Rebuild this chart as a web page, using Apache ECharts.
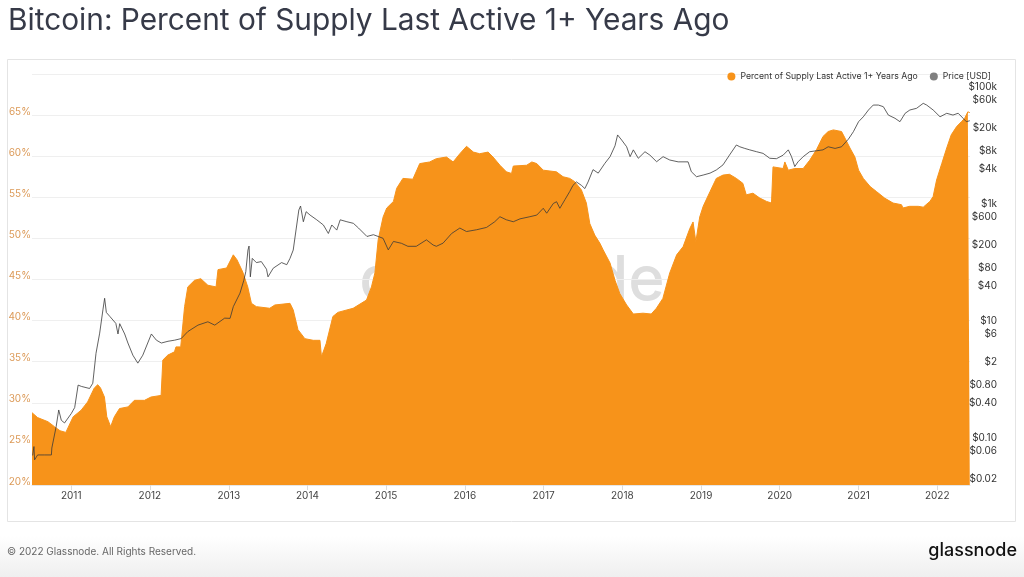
<!DOCTYPE html>
<html>
<head>
<meta charset="utf-8">
<script src="https://cdn.jsdelivr.net/npm/echarts@6/dist/echarts.min.js"></script>
<style>
html,body{margin:0;padding:0;background:#fff;}
#chart{width:1024px;height:577px;}
</style>
</head>
<body>
<div id="chart"></div>
<script>
// ---- Data ----
const pctDates = ['2010-07-03','2010-07-29','2010-09-15','2010-10-15','2010-11-10','2010-12-07','2011-01-10','2011-02-16','2011-03-18','2011-04-18','2011-05-04','2011-05-17','2011-06-04','2011-06-15','2011-07-03','2011-07-20','2011-08-13','2011-09-21','2011-10-21','2011-12-07','2012-01-06','2012-02-22','2012-03-01','2012-03-24','2012-04-24','2012-05-01','2012-05-23','2012-06-10','2012-06-25','2012-07-26','2012-08-24','2012-09-26','2012-11-03','2012-11-12','2012-11-21','2012-12-22','2013-01-22','2013-02-08','2013-03-07','2013-03-30','2013-04-16','2013-05-09','2013-07-10','2013-08-03','2013-10-12','2013-10-27','2013-11-18','2013-12-20','2014-01-28','2014-02-28','2014-03-07','2014-03-29','2014-04-29','2014-05-22','2014-08-01','2014-10-02','2014-10-25','2014-11-10','2014-11-25','2014-12-18','2015-01-04','2015-02-04','2015-02-19','2015-03-20','2015-05-05','2015-06-06','2015-07-22','2015-08-22','2015-10-08','2015-11-08','2015-12-09','2016-01-09','2016-02-10','2016-03-10','2016-04-18','2016-05-11','2016-06-12','2016-07-12','2016-08-05','2016-08-13','2016-10-14','2016-11-07','2016-11-30','2016-12-30','2017-03-01','2017-04-01','2017-05-02','2017-05-25','2017-06-25','2017-07-18','2017-08-03','2017-08-26','2017-09-19','2017-10-04','2017-11-05','2017-11-28','2017-12-20','2018-01-21','2018-02-21','2018-04-07','2018-05-15','2018-06-08','2018-07-08','2018-08-09','2018-09-10','2018-10-10','2018-11-10','2018-11-25','2018-12-08','2018-12-26','2019-01-11','2019-02-12','2019-03-13','2019-04-13','2019-05-13','2019-06-14','2019-07-14','2019-07-30','2019-08-30','2019-10-01','2019-11-01','2019-11-24','2019-12-01','2020-01-17','2020-01-25','2020-02-10','2020-03-11','2020-04-19','2020-05-19','2020-06-20','2020-07-20','2020-08-13','2020-09-06','2020-10-14','2020-10-30','2020-11-22','2020-12-15','2021-01-01','2021-01-23','2021-02-24','2021-03-25','2021-05-02','2021-06-10','2021-07-19','2021-07-26','2021-08-26','2021-10-05','2021-10-28','2021-11-28','2021-12-13','2021-12-29','2022-01-22','2022-02-14','2022-03-07','2022-04-01','2022-04-23','2022-05-08','2022-05-23','2022-06-01'];
const pctValues = [28.8,28.2,27.7,27.1,26.6,26.4,28.3,29.1,30.1,31.8,32.2,31.8,30.7,28.3,27.1,28.3,29.3,29.5,30.3,30.3,30.7,30.9,35.2,35.8,36.2,36.8,36.8,41.7,44.1,44.9,45.1,44.3,44.1,46.2,46.2,46.4,48.0,47.4,45.9,44.1,42.1,41.7,41.5,41.9,42.1,41.3,38.9,37.8,37.6,37.6,35.6,37.2,40.5,41.0,41.5,42.5,44.1,45.8,49.8,52.6,53.7,54.5,56.1,57.3,57.2,59.1,59.3,59.7,59.9,59.3,60.3,61.2,60.5,60.3,60.5,59.9,58.9,58.1,57.9,58.8,58.9,59.3,59.1,58.3,58.1,57.5,57.3,56.9,55.9,54.3,51.8,50.4,49.4,48.6,47.0,44.9,43.3,41.9,40.8,40.9,40.8,41.5,42.7,45.8,48.0,49.0,51.2,52.0,49.6,52.6,53.9,55.7,57.3,57.7,57.8,57.3,56.7,55.3,55.5,54.9,54.5,54.3,58.7,58.5,59.3,58.3,58.5,58.5,59.5,60.8,62.4,63.0,63.2,63.0,62.2,61.0,59.9,58.3,57.3,56.3,55.7,54.9,54.3,54.1,53.7,53.9,53.9,53.8,54.5,55.1,57.1,59.1,61.0,62.6,63.6,64.2,64.6,65.4,65.3];

const priceDates = ['2010-07-06','2010-07-12','2010-07-15','2010-07-29','2010-08-30','2010-10-01','2010-10-03','2010-10-23','2010-11-04','2010-11-16','2010-12-01','2011-01-01','2011-01-17','2011-02-02','2011-02-17','2011-03-27','2011-04-11','2011-04-26','2011-05-13','2011-05-28','2011-06-05','2011-06-13','2011-06-29','2011-07-27','2011-08-06','2011-08-14','2011-09-06','2011-09-21','2011-10-14','2011-11-06','2011-11-29','2012-01-08','2012-01-31','2012-02-23','2012-03-25','2012-04-25','2012-05-25','2012-06-25','2012-08-11','2012-09-26','2012-10-28','2012-12-13','2013-01-07','2013-01-22','2013-02-22','2013-03-12','2013-03-21','2013-03-31','2013-04-05','2013-04-11','2013-04-20','2013-05-09','2013-06-01','2013-06-25','2013-07-02','2013-07-26','2013-09-03','2013-09-27','2013-10-12','2013-10-27','2013-11-09','2013-11-22','2013-11-30','2013-12-13','2013-12-26','2014-01-13','2014-02-13','2014-03-16','2014-04-08','2014-04-24','2014-05-17','2014-06-02','2014-07-03','2014-08-02','2014-08-26','2014-10-04','2014-11-03','2014-11-25','2014-12-18','2015-01-11','2015-02-04','2015-03-13','2015-04-12','2015-05-21','2015-07-07','2015-08-07','2015-08-22','2015-09-22','2015-11-01','2015-12-09','2016-01-09','2016-02-25','2016-04-11','2016-05-19','2016-06-12','2016-07-12','2016-08-13','2016-09-13','2016-10-29','2016-11-30','2016-12-30','2017-01-15','2017-02-15','2017-03-02','2017-03-17','2017-04-10','2017-05-02','2017-05-17','2017-06-02','2017-06-25','2017-07-11','2017-07-26','2017-08-18','2017-09-11','2017-10-12','2017-11-05','2017-11-28','2017-12-10','2017-12-29','2018-01-21','2018-02-06','2018-02-21','2018-03-16','2018-04-16','2018-05-09','2018-06-09','2018-07-09','2018-08-09','2018-09-17','2018-11-02','2018-11-17','2018-12-11','2019-01-11','2019-02-12','2019-03-13','2019-04-13','2019-05-13','2019-06-14','2019-06-30','2019-07-23','2019-08-15','2019-09-16','2019-10-16','2019-11-16','2019-12-17','2020-01-17','2020-02-10','2020-02-25','2020-03-11','2020-03-26','2020-04-19','2020-05-19','2020-06-20','2020-07-20','2020-08-13','2020-09-14','2020-10-14','2020-11-15','2020-12-08','2021-01-01','2021-01-23','2021-02-16','2021-03-10','2021-04-03','2021-04-26','2021-05-19','2021-06-19','2021-07-12','2021-08-05','2021-08-27','2021-09-27','2021-10-28','2021-11-13','2021-12-13','2022-01-14','2022-02-14','2022-03-15','2022-04-08','2022-05-01','2022-05-16','2022-06-01'];
const priceValues = [0.05,0.071,0.042,0.051,0.051,0.051,0.067,0.155,0.30,0.20,0.18,0.26,0.33,0.80,0.76,0.70,0.86,2.8,6.2,15.5,24.5,14,12,9.1,6.0,9,6,4.2,2.6,1.9,2.6,6.0,4.7,4.2,4.5,4.7,5.0,6.6,8.5,9.7,8.5,11.2,11.1,17.6,30,50,70,164,192,57,118,100,104,77,57,80,100,92,118,164,361,794,930,500,743,651,540,440,315,440,360,540,500,470,390,280,300,280,260,165,230,214,190,190,245,200,190,215,315,390,340,365,400,500,610,540,500,560,610,650,850,700,1030,1100,850,1200,1650,2100,2400,2100,1850,2400,3900,3400,5000,6500,10000,15300,12500,9600,6500,8500,6100,7900,6900,5330,6500,5700,5300,5300,3600,2950,3150,3400,3850,4700,6900,10300,9600,9000,8500,7900,7400,6100,6000,6900,8500,6500,4400,5300,6500,7900,8200,8500,9600,9000,9600,13000,17400,25800,31300,40900,49700,49700,46600,33500,29500,25800,35900,40900,43700,53200,49700,40900,31300,35900,33500,36000,29500,25800,26800];

const yearTicks = ['2011','2012','2013','2014','2015','2016','2017','2018','2019','2020','2021','2022'];
const priceTicks = [100000,60000,20000,8000,4000,1000,600,200,80,40,10,6,2,0.8,0.4,0.1,0.06,0.02];
const pctTicks = [20,25,30,35,40,45,50,55,60,65,70];

const seriesNames = ['Percent of Supply Last Active 1+ Years Ago','Price [USD]'];

// ---- Build ----
const ts = (d)=>new Date(d+'T00:00:00Z').getTime();
const pctData = pctDates.map((d,i)=>[ts(d),pctValues[i]]);
const priceData = priceDates.map((d,i)=>[ts(d),priceValues[i]]);
const yearTs = yearTicks.map(y=>ts(y+'-01-01'));

function fmtPrice(v){
  if (v >= 999) return '$' + Math.round(v/1000) + 'k';
  if (v >= 0.999) return '$' + Math.round(v);
  return '$' + (Math.round(v*100)/100).toFixed(2);
}

const chart = echarts.init(document.getElementById('chart'), null, {renderer:'canvas'});
const FONT = 'Inter, "Noto Sans", sans-serif';
chart.setOption({
  animation:false,
  backgroundColor:'#ffffff',
  textStyle:{fontFamily:FONT},
  title:{
    text:'Bitcoin: Percent of Supply Last Active 1+ Years Ago',
    left:3, top:1,
    textStyle:{fontSize:29.8, fontWeight:'normal', color:'#363a48', fontFamily:FONT}
  },
  legend:{
    data:seriesNames,
    right:28, top:67,
    icon:'circle', itemWidth:8, itemHeight:8, itemGap:12,
    textStyle:{fontSize:8.7, color:'#333', fontFamily:FONT}
  },
  graphic:[
    {type:'rect', shape:{x:0,y:536,width:1024,height:41}, z:-10, silent:true,
     style:{fill:new echarts.graphic.LinearGradient(0,0,0,1,[{offset:0,color:'#ffffff'},{offset:1,color:'#efefef'}])}},
    {type:'rect', shape:{x:7.5,y:59.5,width:1008,height:462}, z:-5, silent:true,
     style:{fill:'none', stroke:'#e4e4e4', lineWidth:1}},
    {type:'text', left:'center', top:250, z:0, silent:true,
     style:{text:'glassnode', fontSize:62, fontWeight:500, fill:'#dedede', fontFamily:FONT}},
    {type:'text', left:7, top:547, silent:true,
     style:{text:'\u00a9 2022 Glassnode. All Rights Reserved.', fontSize:10, fill:'#666', fontFamily:FONT}},
    {type:'text', right:7, top:542, silent:true,
     style:{text:'glassnode', fontSize:18, fontWeight:500, fill:'#111', fontFamily:FONT}}
  ],
  grid:{left:32, right:54, top:74, bottom:92, containLabel:false},
  xAxis:{
    type:'value',
    min:ts('2010-07-03'), max:ts('2022-06-02'),
    axisLine:{show:true, lineStyle:{color:'#e6e6e6'}},
    axisTick:{show:true, length:5, lineStyle:{color:'#dcdcdc'}, customValues:yearTs},
    axisLabel:{color:'#444', fontSize:10, margin:6, customValues:yearTs,
      formatter:(v)=>String(new Date(v).getUTCFullYear())},
    splitLine:{show:false}
  },
  yAxis:[
    {
      type:'value', position:'left',
      min:pctTicks[0], max:pctTicks[pctTicks.length-1], interval:5,
      axisLine:{show:false}, axisTick:{show:false},
      axisLabel:{color:'#dc9a58', fontSize:10, margin:1, verticalAlign:'bottom', lineHeight:7,
        showMaxLabel:false, formatter:'{value}%'},
      splitLine:{show:true, lineStyle:{color:'#efefef', width:1}}
    },
    {
      type:'log', position:'right', logBase:10,
      min:0.0156, max:169000,
      axisLine:{show:false}, axisTick:{show:false},
      axisLabel:{color:'#333', fontSize:10, margin:27, align:'right',
        customValues:priceTicks, formatter:fmtPrice},
      splitLine:{show:false}
    }
  ],
  series:[
    {
      name:seriesNames[0], type:'line', yAxisIndex:0, data:pctData,
      showSymbol:false, symbol:'none', smooth:false, z:2,
      itemStyle:{color:'#f7931a'},
      lineStyle:{color:'#f7931a', width:1},
      areaStyle:{color:'#f7931a', opacity:1, origin:'start'}
    },
    {
      name:seriesNames[1], type:'line', yAxisIndex:1, data:priceData,
      showSymbol:false, symbol:'none', smooth:false, z:3,
      itemStyle:{color:'#808080'},
      lineStyle:{color:'#3a3a3a', width:0.8}
    }
  ]
});
</script>
</body>
</html>
